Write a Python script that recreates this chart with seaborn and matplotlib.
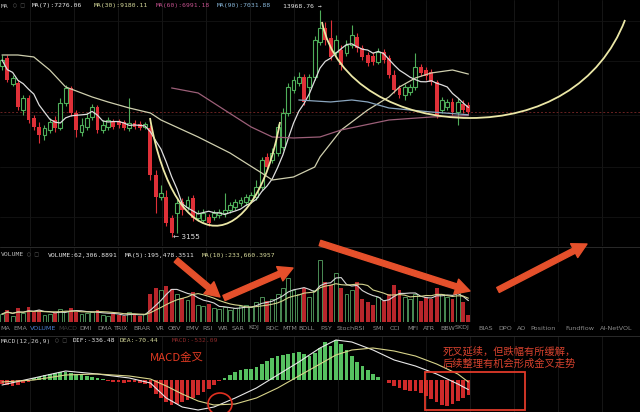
import numpy as np
import pandas as pd
import matplotlib
matplotlib.use('Agg')
import matplotlib.pyplot as plt
import seaborn as sns
from matplotlib.patches import Ellipse, Rectangle, FancyArrowPatch, PathPatch
from matplotlib.path import Path

# ---- candles (price) ----
opens = [9679, 10200, 8603, 8659, 7253, 7848, 6883, 6490, 6157, 6363,
         6793, 6447, 7595, 8380, 7112, 6281, 6490, 6929, 7398, 6363,
         6490, 6705, 6749, 6705, 6447, 6662, 6618, 6490, 6447, 4736,
         4101, 4101, 3574, 3693, 3968, 3841, 4074, 3574, 3527, 3597,
         3597, 3644, 3693, 3766, 3841, 3942, 3968, 4020, 4101, 4378,
         5331, 5227, 5474, 5692, 7112, 8270, 8659, 9006, 8436, 9006,
         11330, 12415, 11630, 10610, 10749, 10540, 11107, 11707, 10892, 10402,
         10335, 9936, 10610, 10200, 9124, 8380, 8003, 8163, 8436, 9617,
         9428, 9306, 8716, 7253, 7398, 7645, 7159, 7545, 7495]
closes = [10066, 8830, 8947, 7398, 7848, 6793, 6490, 6157, 6447, 6705,
          6447, 7595, 8380, 7112, 6363, 6574, 6883, 7398, 6363, 6574,
          6793, 6490, 6574, 6447, 6662, 6490, 6447, 6618, 4736, 4101,
          4210, 3459, 3238, 3942, 3766, 4020, 3574, 3693, 3693, 3459,
          3693, 3717, 3766, 3891, 3968, 4020, 4101, 4155, 4378, 5227,
          4991, 5474, 6490, 7112, 8436, 8830, 9006, 7645, 9006, 11478,
          12415, 11478, 10268, 11478, 9742, 11107, 11860, 10892, 10268, 9872,
          9936, 10610, 10066, 9124, 8270, 8003, 8436, 8436, 9617, 9246,
          9065, 8716, 7019, 7745, 7645, 7159, 7645, 7253, 7159]
highs = [10402, 10402, 9124, 8830, 8003, 8003, 7019, 6705, 6574, 6883,
         6974, 7848, 8546, 8491, 7253, 6883, 7112, 7545, 7495, 6793,
         6929, 6838, 6838, 6793, 7848, 6793, 6749, 6705, 6574, 4894,
         4436, 4293, 3644, 4074, 4074, 4128, 4155, 3766, 3791, 3668,
         3766, 3791, 4210, 3968, 4047, 4101, 4182, 4237, 4584, 5331,
         5474, 5654, 6618, 7350, 8659, 9065, 9306, 9185, 9185, 11783,
         13968, 12915, 13084, 11860, 11107, 11478, 12662, 12015, 11107, 10610,
         10610, 10892, 10820, 10402, 9428, 8546, 8603, 8603, 10540, 9807,
         9617, 9491, 8830, 7900, 7797, 7848, 7848, 7745, 7645]
lows = [9428, 8716, 8491, 7253, 7019, 6662, 6363, 5843, 5959, 6240,
        6281, 6363, 7447, 6974, 6078, 6117, 6363, 6793, 6240, 6240,
        6363, 6405, 6447, 6363, 6322, 6405, 6363, 6405, 4584, 3693,
        4020, 3391, 3155, 3238, 3644, 3766, 3504, 3504, 3481, 3391,
        3527, 3574, 3597, 3693, 3766, 3866, 3891, 3942, 4020, 4293,
        4894, 5126, 5366, 5580, 6974, 8110, 8491, 7495, 7745, 8830,
        11107, 11107, 10066, 10402, 9428, 10335, 10892, 10610, 10066, 9679,
        9742, 9807, 9872, 8947, 8110, 7848, 7745, 8003, 8270, 9065,
        8830, 8546, 6883, 7112, 7253, 7019, 6574, 7112, 7066]

# volume, thousands
volumes = [72, 108, 54, 126, 81, 135, 90, 108, 63, 72, 81, 117, 99, 126, 90, 72, 81, 90, 108, 63,
           54, 72, 63, 54, 90, 63, 54, 72,
           252, 306, 288, 324, 297, 252, 216, 198, 270, 153,
           144, 162, 126, 117, 135, 108, 126, 144, 153, 135,
           180, 225, 189, 207, 252, 306, 396, 288, 252, 306,
           225, 288, 558, 360, 333, 441, 306, 252, 288, 360,
           207, 180, 153, 225, 189, 252, 333, 288, 225, 207,
           252, 189, 225, 207, 306, 252, 225, 207, 288, 180, 62]

# moving averages (candle index, price)
ma30_idx = [0, 3, 6, 9, 12, 17, 20, 24, 28, 30, 37, 43, 49, 51, 55, 59, 60, 64, 69, 73, 75, 78, 81, 85, 88]
ma30_val = [10402, 10402, 10268, 9428, 8436, 7900, 7645, 7350, 7112, 6793, 6078, 5474, 4799, 4584, 4675,
            4991, 5331, 6363, 7253, 7900, 8436, 8947, 9246, 9428, 9180]
ma60_idx = [32, 37, 42, 47, 51, 55, 60, 64, 73, 81, 88]
ma60_val = [8380, 8110, 7253, 6490, 6078, 6038, 6078, 6363, 6793, 6929, 6991]
ma90_idx = [56, 62, 66, 69, 73, 81, 88]
ma90_val = [7745, 7645, 7745, 7645, 7350, 7159, 7031]

# MACD
macd_hist = [-140, -175, -210, -175, -105, -70,
             70, 105, 175, 210, 245, 280, 280, 245, 210, 175, 140, 105,
             70, 35, -35, -70, -70, -105, -70, -70, -105, -140,
             -280, -490, -630, -770, -875, -840, -770, -700, -630, -525, -420, -315, -175,
             -35, 70, 175, 280, 350, 385, 385,
             455, 560, 665, 770, 840, 875, 910, 945, 980, 910, 840, 945, 1120,
             1330, 1190, 1400, 1260, 1050, 840, 630, 490, 350, 210,
             105, 0, -105, -210, -280, -350, -385, -385,
             -455, -560, -665, -770, -875, -910, -840, -735, -630, -532]
dif_idx = [0, 6, 12, 18, 24, 28, 31, 34, 37, 40, 44, 48, 52, 56, 60, 63, 66, 70, 74, 78, 82, 86, 88]
dif_val = [-175, 70, 315, 210, 70, -105, -630, -945, -1050, -945, -630, -280, 175, 630, 1120, 1400,
           1330, 1050, 700, 490, 210, -140, -336]
dea_val = [-70, 0, 175, 210, 140, 35, -210, -490, -735, -875, -840, -630, -280, 140, 560, 875,
           1050, 1120, 1015, 840, 560, 210, -70]

tabs = ['MA', 'EMA', 'VOLUME', 'MACD', 'DMI', 'DMA', 'TRIX', 'BRAR', 'VR', 'OBV', 'EMV', 'RSI', 'WR',
        'SAR', 'KDJ', 'RDC', 'MTM', 'BOLL', 'PSY', 'StochRSI', 'SMI', 'CCI', 'MFI', 'ATR', 'BBW',
        'SKDJ', 'BIAS', 'DPO', 'AO', 'Position', 'Fundflow', 'AI-NetVOL']
tab_x = [0, 13, 30, 58, 79, 97, 113, 133, 156, 168, 185, 202, 218, 232, 248, 265, 282, 298,
         320, 337, 373, 390, 407, 423, 440, 455, 478, 498, 517, 530, 565, 600]

sns.set_theme(style="dark", rc={"axes.facecolor": "black", "figure.facecolor": "black"})
plt.rcParams['font.family'] = ['DejaVu Sans', 'Noto Sans CJK SC']

W, H = 640, 412
RED, GREEN = '#df3038', '#4fae5a'


def box(top, bottom):
    return [0, 1 - bottom / H, 1, (bottom - top) / H]


def P(x, y):
    return (x / W, 1 - y / H)


fig = plt.figure(figsize=(6.4, 4.12), dpi=100)
ax = fig.add_axes(box(0, 246))
vax = fig.add_axes(box(248, 322))
max_ = fig.add_axes(box(336, 412))

idx = np.arange(len(closes))
o, c, h, l = map(np.array, (opens, closes, highs, lows))
up = c >= o
ccol = np.where(up, GREEN, RED)

for a in (ax, vax, max_):
    a.set_facecolor('black')
    a.set_xlim(-0.38, 120.38)
    for s in a.spines.values():
        s.set_visible(False)
    a.set_xticks(np.arange(5.3, 121, 8.3))
    a.tick_params(labelleft=False, labelbottom=False, length=0)
    a.grid(True, axis='x', color='#1a1a1a', lw=0.6)

# ---- price panel ----
ax.set_yscale('log')
ax.set_ylim(2974, 14917)
ax.set_yticks([3600, 5000, 7000, 10000, 13000])
ax.set_yticks([], minor=True)
ax.grid(True, axis='y', color='#141414', lw=0.6)

ax.vlines(idx, l, h, colors=ccol, lw=0.8, zorder=3)
body_lo = np.minimum(o, c)
body_h = np.abs(c - o)
ax.bar(idx[up], body_h[up], bottom=body_lo[up], width=0.72, facecolor='black',
       edgecolor=GREEN, lw=0.8, zorder=4)
ax.bar(idx[~up], body_h[~up], bottom=body_lo[~up], width=0.72, color=RED, lw=0, zorder=4)

ma7 = pd.Series(closes).rolling(7, min_periods=1).mean()
sns.lineplot(x=idx, y=ma7, ax=ax, color='#dedede', lw=0.9, zorder=5)
sns.lineplot(x=ma30_idx, y=ma30_val, ax=ax, color='#cfcfae', lw=0.9, zorder=5)
sns.lineplot(x=ma60_idx, y=ma60_val, ax=ax, color='#9c5f78', lw=0.9, zorder=5)
sns.lineplot(x=ma90_idx, y=ma90_val, ax=ax, color='#8aa6bf', lw=0.9, zorder=5)
ax.axhline(closes[-1], color='#6a2222', lw=0.7, ls=(0, (2, 2)), zorder=2)
ax.text(32.3, min(lows), '\u2190 3155', color='#e0e0e0', fontsize=5.2, va='center', zorder=6)
ax.set_xlabel('')
ax.set_ylabel('')

# ---- volume panel ----
vol = np.array(volumes)
vax.set_ylim(0, 666)
vax.bar(idx[up], vol[up], width=0.72, facecolor='black', edgecolor='#4b8c55', lw=0.7)
vax.bar(idx[~up], vol[~up], width=0.72, color='#b8262b', lw=0)
sns.lineplot(x=idx, y=pd.Series(volumes).rolling(5, min_periods=1).mean(), ax=vax,
             color='#d8d8d8', lw=0.8)
sns.lineplot(x=idx, y=pd.Series(volumes).rolling(10, min_periods=1).mean(), ax=vax,
             color='#d4d48e', lw=0.8)
vax.set_xlabel('')
vax.set_ylabel('')

# ---- MACD panel ----
hist = np.array(macd_hist)
max_.set_ylim(-1120, 1540)
max_.bar(idx, hist, width=0.7, color=np.where(hist >= 0, '#56c060', '#cf2a2a'), lw=0)
sns.lineplot(x=dif_idx, y=dif_val, ax=max_, color='#e8e8e8', lw=0.8)
sns.lineplot(x=dif_idx, y=dea_val, ax=max_, color='#d8d48a', lw=0.8)
max_.set_xlabel('')
max_.set_ylabel('')

# separators
for yy in (246.5, 335.5):
    fig.add_artist(plt.Line2D([0, 1], [1 - yy / H] * 2, color='#2a2a2a', lw=0.7,
                              transform=fig.transFigure))

# ---- header texts ----
mono = dict(family='DejaVu Sans Mono', fontsize=4.6, va='center')
fig.text(*P(1, 6), 'MA', color='#bbbbbb', **mono)
fig.text(*P(13, 6), '\u25cb \u25a1', color='#555555', **mono)
fig.text(*P(32, 6), 'MA(7):7276.06', color='#e6e6e6', **mono)
fig.text(*P(94, 6), 'MA(30):9180.11', color='#d6d99a', **mono)
fig.text(*P(156, 6), 'MA(60):6991.18', color='#c2508c', **mono)
fig.text(*P(217, 6), 'MA(90):7031.88', color='#86b4d6', **mono)
fig.text(*P(283, 6), '13968.76 \u2192', color='#e6e6e6', **mono)

fig.text(*P(1, 255), 'VOLUME', color='#bbbbbb', **mono)
fig.text(*P(27, 255), '\u25cb \u25a1', color='#555555', **mono)
fig.text(*P(48, 255), 'VOLUME:62,306.8891', color='#e6e6e6', **mono)
fig.text(*P(125, 255), 'MA(5):195,478.3511', color='#e6e6e6', **mono)
fig.text(*P(202, 255), 'MA(10):233,660.3957', color='#d6d99a', **mono)

fig.text(*P(1, 341), 'MACD(12,26,9)', color='#cccccc', **mono)
fig.text(*P(55, 341), '\u25cb \u25a1', color='#555555', **mono)
fig.text(*P(73, 341), 'DIF:-336.48', color='#e6e6e6', **mono)
fig.text(*P(120, 341), 'DEA:-70.44', color='#d6d99a', **mono)
fig.text(*P(172, 341), 'MACD:-532.09', color='#8a2a2a', **mono)

for name, tx in zip(tabs, tab_x):
    col = '#4a7fd0' if name == 'VOLUME' else ('#3c3c3c' if name == 'MACD' else '#8c8c8c')
    fig.text(*P(tx, 328), name, color=col, fontsize=4.6, va='center')

# ---- annotations ----
cup_col = '#ebe7a6'
cup1 = Path([P(150, 118), P(175, 261), P(255, 261), P(280, 122)],
            [Path.MOVETO, Path.CURVE4, Path.CURVE4, Path.CURVE4])
cup2 = Path([P(322, 22), P(335, 85), P(400, 118), P(470, 118),
             P(540, 118), P(600, 85), P(625, 20)],
            [Path.MOVETO, Path.CURVE4, Path.CURVE4, Path.CURVE4,
             Path.CURVE4, Path.CURVE4, Path.CURVE4])
for pth in (cup1, cup2):
    fig.add_artist(PathPatch(pth, facecolor='none', edgecolor=cup_col, lw=1.3,
                             transform=fig.transFigure, zorder=10))

arrows = [((176, 260), (220, 297)), ((224, 298), (293, 268)),
          ((320, 243), (470, 291)), ((498, 290), (587, 244))]
for a0, a1 in arrows:
    fig.add_artist(FancyArrowPatch(P(*a0), P(*a1), transform=fig.transFigure,
                                   arrowstyle='simple,head_length=1.3,head_width=1.4,tail_width=0.5',
                                   mutation_scale=8, color='#e5502b', shrinkA=0, shrinkB=0,
                                   zorder=10))

fig.add_artist(Ellipse(P(220, 404), 24 / W, 22 / H, facecolor='none', edgecolor='#e03020',
                       lw=1.2, transform=fig.transFigure, zorder=10))
fig.add_artist(Rectangle(P(425, 410), 100 / W, 38 / H, facecolor='none', edgecolor='#e03a2a',
                         lw=1.3, transform=fig.transFigure, zorder=10))

cjk = ['Noto Sans CJK SC', 'DejaVu Sans']
fig.text(*P(150, 358), 'MACD金叉', color='#e23a22', fontsize=8.2, family=cjk, va='center')
fig.text(*P(443, 351), '死叉延续，但跌幅有所缓解，', color='#d8422e', fontsize=7.4, family=cjk, va='center')
fig.text(*P(443, 364), '后续整理有机会形成金叉走势', color='#d8422e', fontsize=7.4, family=cjk, va='center')

fig.savefig('out.png', dpi=100, facecolor='black')
